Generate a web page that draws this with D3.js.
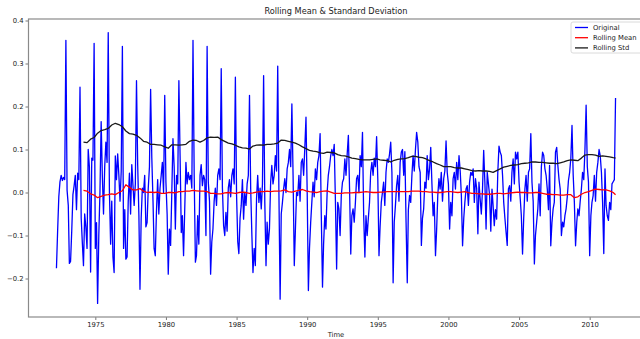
<!DOCTYPE html>
<html>
<head>
<meta charset="utf-8">
<script src="https://cdn.jsdelivr.net/npm/d3@7"></script>
<style>
  html, body { margin: 0; padding: 0; background: #fff; }
  svg { display: block; }
  text { font-family: "DejaVu Sans", sans-serif; fill: #222; }
</style>
</head>
<body>
<svg id="chart" width="640" height="339"></svg>
<script>
// Monthly series, first observation April 1972
const firstMonth = new Date(1972, 3, 1);

const original = [
  // 1972 (Apr-Dec)
  -0.176, -0.09, -0.01, 0.025, 0.04, 0.028, 0.035, 0.03, 0.354,
  // 1973
  0.005, -0.03, -0.165, -0.16, -0.09, -0.005, 0.015, 0.04, -0.04, 0.045, 0.03, 0.245,
  // 1974
  -0.06, -0.12, -0.17, -0.05, -0.08, -0.13, 0.1, 0.06, -0.185, 0.08, 0.075, 0.347,
  // 1975
  -0.13, -0.07, -0.258, -0.1, 0.0, 0.165, 0.04, -0.05, 0.06, 0.117, 0.07, 0.372,
  // 1976
  0.0, -0.12, -0.02, -0.15, -0.186, 0.085, 0.03, 0.09, 0.04, -0.02, 0.05, 0.34,
  // 1977
  -0.13, -0.04, -0.155, -0.15, -0.02, 0.045, -0.05, 0.065, 0.016, -0.03, 0.02, 0.26,
  // 1978
  0.063, -0.053, -0.225, -0.06, 0.01, 0.0, 0.04, -0.08, -0.07, 0.01, 0.06, 0.24,
  // 1979
  0.08, -0.02, -0.13, -0.147, -0.045, 0.03, -0.05, 0.01, 0.04, 0.07, 0.0, 0.226,
  // 1980
  0.024, -0.05, -0.19, -0.085, -0.123, 0.0, 0.125, 0.06, -0.085, 0.04, 0.02, 0.26,
  // 1981
  0.086, -0.093, -0.054, -0.147, -0.04, 0.07, 0.02, 0.047, 0.03, 0.04, 0.01, 0.354,
  // 1982
  0.04, -0.162, -0.147, -0.054, -0.12, 0.04, 0.065, 0.016, 0.04, 0.03, -0.1, 0.34,
  // 1983
  0.024, -0.02, -0.19, -0.115, -0.085, -0.02, 0.01, -0.03, 0.04, 0.055, 0.03, 0.288,
  // 1984
  0.01, -0.077, -0.1, -0.046, -0.09, 0.01, 0.03, -0.01, 0.04, 0.055, 0.02, 0.268,
  // 1985
  -0.007, -0.115, -0.142, -0.06, -0.03, 0.03, -0.062, 0.0, -0.03, 0.02, 0.04, 0.226,
  // 1986
  0.008, -0.1, -0.186, -0.13, -0.17, -0.015, 0.04, -0.023, 0.01, -0.038, 0.02, 0.272,
  // 1987
  -0.023, -0.17, -0.069, -0.12, -0.085, 0.024, 0.063, 0.02, 0.04, 0.086, 0.05, 0.294,
  // 1988
  0.0, -0.248, -0.05, -0.023, 0.008, 0.032, 0.0, 0.055, 0.07, 0.1, 0.06, 0.206,
  // 1989
  0.04, -0.17, -0.09, 0.0, -0.007, 0.04, -0.02, 0.07, 0.078, 0.04, 0.105, 0.175,
  // 1990
  0.0, -0.228, -0.13, -0.07, -0.023, 0.024, -0.01, 0.055, 0.03, 0.07, 0.086, 0.137,
  // 1991
  -0.054, -0.22, -0.12, -0.054, -0.085, 0.0, 0.04, 0.06, 0.086, 0.1, 0.086, 0.112,
  // 1992
  -0.02, -0.178, -0.023, -0.038, -0.1, -0.007, 0.024, 0.032, 0.078, 0.04, 0.09, 0.133,
  // 1993
  0.008, -0.143, -0.054, -0.038, -0.069, -0.023, 0.032, 0.04, 0.0, 0.086, 0.06, 0.14,
  // 1994
  -0.054, -0.15, -0.054, -0.1, -0.06, -0.023, 0.047, 0.07, 0.04, 0.08, 0.06, 0.13,
  // 1995
  0.032, -0.147, -0.08, -0.023, 0.0, 0.024, -0.03, 0.047, 0.078, 0.07, 0.09, 0.117,
  // 1996
  0.047, -0.21, -0.069, -0.03, 0.016, 0.04, -0.02, 0.07, 0.094, 0.1, 0.04, 0.095,
  // 1997
  -0.069, -0.21, -0.04, -0.007, -0.023, 0.04, 0.086, 0.05, 0.1, 0.14, 0.117, 0.06,
  // 1998
  0.047, -0.123, -0.06, -0.038, 0.024, 0.01, 0.086, 0.03, 0.055, 0.105, 0.02, -0.054,
  // 1999
  -0.023, -0.147, -0.09, -0.007, 0.032, 0.008, 0.047, -0.02, 0.032, 0.05, 0.12, 0.047,
  // 2000
  0.02, -0.085, -0.023, -0.054, 0.032, 0.047, 0.008, 0.07, 0.03, 0.086, 0.05, -0.007,
  // 2001
  -0.124, -0.06, -0.023, 0.008, 0.016, -0.03, 0.024, 0.047, 0.04, 0.055, -0.023, 0.032,
  // 2002
  0.01, -0.096, 0.024, -0.015, -0.05, 0.008, 0.098, 0.024, -0.085, 0.047, 0.02, -0.007,
  // 2003
  -0.09, 0.008, -0.03, -0.077, -0.04, -0.062, 0.047, 0.108, 0.094, 0.086, 0.04, -0.023,
  // 2004
  -0.06, -0.093, -0.123, 0.008, 0.016, -0.02, 0.047, 0.078, 0.02, 0.094, 0.078, 0.094,
  // 2005
  0.024, -0.015, -0.054, -0.143, -0.06, 0.008, 0.04, -0.02, 0.047, 0.055, 0.137, 0.024,
  // 2006
  -0.02, -0.166, -0.1, -0.069, -0.038, 0.02, -0.054, 0.06, 0.094, 0.086, 0.055, 0.04,
  // 2007
  0.008, -0.04, 0.063, -0.124, -0.07, -0.038, -0.023, 0.094, 0.105, 0.063, 0.03, 0.008,
  // 2008
  -0.1, -0.069, -0.08, -0.054, -0.038, -0.01, 0.028, 0.047, 0.08, 0.156, 0.04, -0.023,
  // 2009
  -0.124, -0.069, -0.038, -0.054, -0.02, 0.008, 0.047, 0.03, 0.1, 0.203, 0.06, 0.024,
  // 2010
  -0.147, -0.054, -0.023, -0.007, 0.04, -0.02, 0.047, 0.07, 0.1, 0.086, 0.047, -0.023,
  // 2011 (Jan-Nov)
  -0.142, 0.055, -0.03, -0.054, -0.065, -0.023, -0.04, 0.02, 0.025, 0.03, 0.22
];

// 24-month rolling statistics, sampled every third month from the first full window
const rollingFirstIndex = 23;
const rollingEvery = 3;

const rollingMean = [
  0.005, 0.003, -0.003, -0.006, -0.012, -0.009, -0.006, -0.005, -0.003, -0.005,
  0.000, 0.004, 0.018, 0.012, 0.006, 0.006, 0.009, 0.003, 0.000, 0.001,
  0.000, 0.001, -0.002, -0.002, 0.000, 0.000, -0.001, 0.002, 0.002, 0.003,
  0.003, 0.005, 0.004, 0.003, 0.003, 0.002, -0.002, -0.002, -0.003, -0.003,
  -0.001, 0.000, -0.001, -0.002, 0.000, 0.001, 0.000, -0.002, -0.001, 0.001,
  0.002, 0.002, 0.003, 0.002, 0.003, 0.003, 0.004, 0.006, 0.002, 0.001,
  0.003, 0.005, 0.007, 0.004, 0.002, 0.001, 0.000, 0.002, 0.003, 0.004,
  0.001, -0.002, -0.002, -0.002, -0.001, -0.001, -0.001, 0.000, 0.000, 0.001,
  0.002, 0.001, 0.000, 0.000, 0.001, 0.001, 0.002, 0.002, 0.002, 0.002,
  0.002, 0.002, 0.002, 0.003, 0.003, 0.003, 0.002, 0.002, 0.001, 0.001,
  0.000, 0.000, 0.001, 0.002, 0.002, 0.001, 0.000, 0.001, 0.002, 0.000,
  -0.002, -0.002, -0.003, -0.003, -0.004, -0.004, -0.003, -0.002, -0.002, -0.003,
  -0.002, -0.001, 0.000, 0.001, 0.000, 0.000, -0.001, -0.001, 0.000, 0.000,
  -0.002, -0.004, -0.004, -0.005, -0.005, -0.006, -0.006, -0.005, -0.005, -0.012,
  -0.010, -0.004, 0.000, 0.002, 0.005, 0.008, 0.007, 0.006, 0.006, 0.004,
  0.000, -0.005
];

const rollingStd = [
  0.117, 0.116, 0.124, 0.128, 0.138, 0.144, 0.146, 0.149, 0.157, 0.161,
  0.158, 0.153, 0.143, 0.137, 0.136, 0.133, 0.127, 0.119, 0.117, 0.112,
  0.112, 0.111, 0.110, 0.106, 0.103, 0.111, 0.111, 0.110, 0.111, 0.112,
  0.119, 0.122, 0.121, 0.117, 0.121, 0.127, 0.129, 0.128, 0.129, 0.123,
  0.119, 0.115, 0.113, 0.110, 0.106, 0.104, 0.103, 0.101, 0.108, 0.110,
  0.111, 0.110, 0.112, 0.112, 0.113, 0.115, 0.122, 0.121, 0.119, 0.117,
  0.115, 0.111, 0.106, 0.102, 0.098, 0.096, 0.095, 0.092, 0.091, 0.094,
  0.093, 0.092, 0.088, 0.086, 0.085, 0.083, 0.080, 0.079, 0.077, 0.076,
  0.076, 0.076, 0.077, 0.078, 0.076, 0.075, 0.074, 0.071, 0.075, 0.077,
  0.078, 0.079, 0.081, 0.084, 0.084, 0.082, 0.081, 0.078, 0.074, 0.071,
  0.067, 0.064, 0.060, 0.060, 0.060, 0.058, 0.057, 0.057, 0.055, 0.053,
  0.051, 0.050, 0.051, 0.050, 0.050, 0.049, 0.047, 0.051, 0.055, 0.059,
  0.061, 0.063, 0.064, 0.065, 0.067, 0.068, 0.069, 0.071, 0.071, 0.070,
  0.070, 0.069, 0.068, 0.068, 0.067, 0.069, 0.071, 0.074, 0.076, 0.075,
  0.074, 0.080, 0.087, 0.088, 0.088, 0.087, 0.084, 0.085, 0.084, 0.083,
  0.081, 0.080
];

const xTickYears = [1975, 1980, 1985, 1990, 1995, 2000, 2005, 2010];
const yTickValues = [-0.2, -0.1, 0.0, 0.1, 0.2, 0.3, 0.4];

const seriesNames = ["Original", "Rolling Mean", "Rolling Std"];
const seriesColors = ["#0000ff", "#ff0000", "#1a1a1a"];

const titleText = "Rolling Mean & Standard Deviation";
const xLabelText = "Time";

// ---- build point lists ----
const lastIndex = original.length - 1;
const monthAt = i => d3.timeMonth.offset(firstMonth, i);

const originalPts = original.map((v, i) => ({ date: monthAt(i), value: v }));
const rollingIndex = k => Math.min(rollingFirstIndex + rollingEvery * k, lastIndex);
const meanPts = rollingMean.map((v, k) => ({ date: monthAt(rollingIndex(k)), value: v }));
const stdPts = rollingStd.map((v, k) => ({ date: monthAt(rollingIndex(k)), value: v }));

// ---- layout ----
const svg = d3.select("#chart");
const plot = { left: 28.5, right: 643.5, top: 19, bottom: 317 };

// 5% padding on both axes around the data extent
const t0 = +originalPts[0].date, t1 = +originalPts[lastIndex].date;
const tPad = (t1 - t0) * 0.05;
const x = d3.scaleTime()
  .domain([new Date(t0 - tPad), new Date(t1 + tPad)])
  .range([plot.left, plot.right]);

const allVals = original.concat(rollingMean, rollingStd);
const [vMin, vMax] = d3.extent(allVals);
const vPad = (vMax - vMin) * 0.05;
const y = d3.scaleLinear()
  .domain([vMin - vPad, vMax + vPad])
  .range([plot.bottom, plot.top]);

// clip region for the data lines
svg.append("defs").append("clipPath").attr("id", "plotClip")
  .append("rect")
  .attr("x", plot.left).attr("y", plot.top)
  .attr("width", plot.right - plot.left).attr("height", plot.bottom - plot.top);

// ---- axes ----
const xAxis = d3.axisBottom(x)
  .tickValues(xTickYears.map(yr => new Date(yr, 0, 1)))
  .tickFormat(d3.timeFormat("%Y"))
  .tickSize(3).tickPadding(2);

const yAxis = d3.axisLeft(y)
  .tickValues(yTickValues)
  .tickFormat(d3.format(".1f"))
  .tickSize(3).tickPadding(2);

const gx = svg.append("g")
  .attr("transform", `translate(0,${plot.bottom})`)
  .call(xAxis);
const gy = svg.append("g")
  .attr("transform", `translate(${plot.left},0)`)
  .call(yAxis);

[gx, gy].forEach(g => {
  g.select(".domain").remove();
  g.selectAll(".tick line").attr("stroke", "#555").attr("stroke-width", 0.8);
  g.selectAll(".tick text")
    .attr("font-size", 6.8)
    .attr("font-family", "DejaVu Sans, sans-serif")
    .attr("fill", "#222");
});

// ---- data lines ----
const line = d3.line()
  .x(d => x(d.date))
  .y(d => y(d.value));

const lines = svg.append("g").attr("clip-path", "url(#plotClip)");
[originalPts, meanPts, stdPts].forEach((pts, i) => {
  lines.append("path")
    .datum(pts)
    .attr("fill", "none")
    .attr("stroke", seriesColors[i])
    .attr("stroke-width", 1.3)
    .attr("stroke-linejoin", "round")
    .attr("d", line);
});

// ---- frame ----
svg.append("rect")
  .attr("x", plot.left).attr("y", plot.top)
  .attr("width", plot.right - plot.left).attr("height", plot.bottom - plot.top)
  .attr("fill", "none")
  .attr("stroke", "#8a8a8a")
  .attr("stroke-width", 1.2);

// ---- title and axis label ----
const midX = (plot.left + plot.right) / 2;
svg.append("text")
  .attr("x", midX).attr("y", 14)
  .attr("text-anchor", "middle")
  .attr("font-size", 8.2)
  .text(titleText);

svg.append("text")
  .attr("x", midX).attr("y", 337)
  .attr("text-anchor", "middle")
  .attr("font-size", 6.8)
  .text(xLabelText);

// ---- legend ----
const legend = svg.append("g").attr("transform", "translate(571,22)");
legend.append("rect")
  .attr("x", 0).attr("y", 0)
  .attr("width", 80).attr("height", 31)
  .attr("rx", 2)
  .attr("fill", "#fff").attr("fill-opacity", 0.85)
  .attr("stroke", "#d0d0d0").attr("stroke-width", 0.8);

seriesNames.forEach((name, i) => {
  const cy = 5.5 + i * 10.2;
  legend.append("line")
    .attr("x1", 4).attr("x2", 17)
    .attr("y1", cy).attr("y2", cy)
    .attr("stroke", seriesColors[i])
    .attr("stroke-width", 1.3);
  legend.append("text")
    .attr("x", 22).attr("y", cy)
    .attr("dy", "0.35em")
    .attr("font-size", 6.8)
    .text(name);
});
</script>
</body>
</html>
